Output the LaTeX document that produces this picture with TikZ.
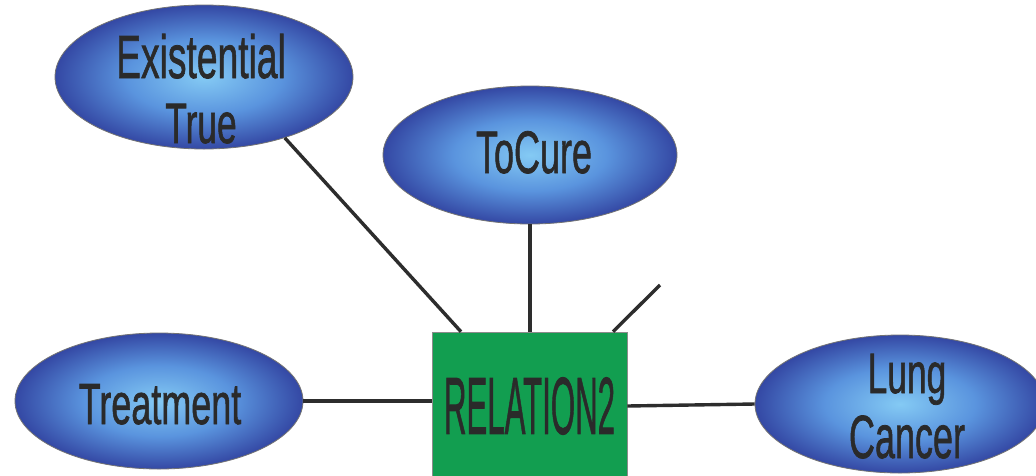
\documentclass[tikz,border=0pt]{standalone}
\usepackage{fontspec}
\setmainfont{Liberation Sans}
\newfontfamily\inkfont[FakeBold=1.3]{Liberation Sans}
\usetikzlibrary{shapes.geometric}

\definecolor{bubbleIn}{RGB}{132,202,244}
\definecolor{bubbleMid}{RGB}{90,148,222}
\definecolor{bubbleOut}{RGB}{52,72,164}
\definecolor{relgreen}{RGB}{18,158,80}
\definecolor{ink}{RGB}{42,42,42}
\definecolor{wire}{RGB}{45,45,45}

\pgfdeclareradialshading{bubbleglow}{\pgfpoint{0bp}{0bp}}{%
  color(0bp)=(bubbleIn); color(13bp)=(bubbleMid);
  color(25bp)=(bubbleOut); color(50bp)=(bubbleOut)}

% condensed text: size, horizontal factor, text
\newcommand\narrowtxt[3]{{\fontsize{#1}{#1}\selectfont\scalebox{#2}[1]{#3}}}

\begin{document}
\begin{tikzpicture}[x=1pt,y=-1pt,
  bubble/.style={ellipse, inner sep=0pt, shading=bubbleglow,
    draw=black!55, line width=0.8pt},
  lbl/.style={inner sep=0pt, text=ink, font=\inkfont\fontsize{60}{65}\selectfont},
  relbox/.style={rectangle, fill=relgreen, draw=black!45, line width=0.6pt,
    inner sep=0pt, text=ink, font=\inkfont},
  wire/.style={draw=wire, line width=3.4pt}]

\fill[white] (0,0) rectangle (1036,475);
\useasboundingbox (0,0) rectangle (1036,475);

% attribute ellipses
\node[bubble, minimum width=298pt, minimum height=144pt] (E) at (204,77) {};
\node[bubble, minimum width=294pt, minimum height=138pt] (T) at (530,155) {};
\node[bubble, minimum width=288pt, minimum height=136pt] (Tr) at (159,401) {};
\node[bubble, minimum width=290pt, minimum height=138pt] (L) at (900,404) {};

% relation box
\node[relbox, minimum width=195pt, minimum height=148pt] (R) at (529.5,406)
  {\narrowtxt{81}{0.385}{RELATION2}};

% labels
\node[lbl, anchor=base] (Et) at (201,78)
  {\begin{tabular}[t]{@{}c@{}}\narrowtxt{61}{0.61}{Existential}\\
   \narrowtxt{57}{0.62}{True}\end{tabular}};
\node[lbl, anchor=base] (Tt) at (534,173) {\narrowtxt{60}{0.6}{ToCure}};
\node[lbl, anchor=base] (Trt) at (160,424) {\narrowtxt{58}{0.62}{Treatment}};
\node[lbl, anchor=base] (Lt) at (907,393)
  {\begin{tabular}[t]{@{}c@{}}\narrowtxt{57}{0.62}{Lung}\\
   \narrowtxt{61}{0.59}{Cancer}\end{tabular}};

% connectors
\coordinate (stubEnd) at (660,285);
\draw[wire] (E.-37) -- ([xshift=-68.5pt]R.north);
\draw[wire] (T.south) -- (T.south |- R.north);
\draw[wire] ([xshift=83.5pt]R.north) -- (stubEnd);
\draw[wire] (Tr.east) -- (Tr.east -| R.west);
\draw[wire] (R.east) -- (L.west);
\end{tikzpicture}
\end{document}
